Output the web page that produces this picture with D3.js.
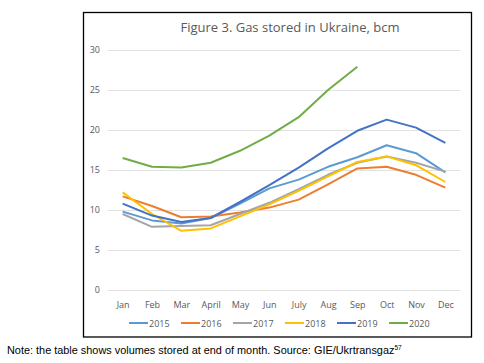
<!DOCTYPE html>
<html lang="en">
<head>
<meta charset="utf-8">
<title>Gas stored in Ukraine</title>
<script src="https://d3js.org/d3.v7.min.js"></script>
<style>
  body { margin: 0; background: #fff; }
  text { font-family: "Open Sans", "Liberation Sans", sans-serif; }
</style>
</head>
<body>
<svg id="chart" width="484" height="363"></svg>
<script>
// data (bcm at end of month)
var months = ["Jan", "Feb", "Mar", "April", "May", "Jun", "July", "Aug", "Sep", "Oct", "Nov", "Dec"];
var years = ["2015", "2016", "2017", "2018", "2019", "2020"];
var v2015 = [9.8, 8.7, 8.3, 9.0, 10.8, 12.7, 13.8, 15.4, 16.6, 18.1, 17.1, 14.7];
var v2016 = [11.7, 10.5, 9.1, 9.2, 9.7, 10.3, 11.3, 13.2, 15.2, 15.4, 14.4, 12.8];
var v2017 = [9.5, 7.9, 8.0, 8.1, 9.5, 10.9, 12.6, 14.4, 15.9, 16.7, 15.9, 14.8];
var v2018 = [12.2, 9.5, 7.4, 7.7, 9.2, 10.7, 12.4, 14.2, 16.0, 16.7, 15.6, 13.5];
var v2019 = [10.8, 9.3, 8.5, 9.0, 11.0, 13.1, 15.3, 17.7, 19.9, 21.3, 20.3, 18.4];
var v2020 = [16.5, 15.4, 15.3, 15.9, 17.4, 19.3, 21.6, 25.0, 27.9];
var yTicks = [0, 5, 10, 15, 20, 25, 30];

var series = [v2015, v2016, v2017, v2018, v2019, v2020];
var colors = ["#5B9BD5", "#ED7D31", "#A5A5A5", "#FFC000", "#4472C4", "#70AD47"];

var svg = d3.select("#chart");

// frame round the chart
svg.append("rect")
  .attr("x", 83.5).attr("y", 12.5)
  .attr("width", 388).attr("height", 324.5)
  .attr("fill", "#fff").attr("stroke", "#000").attr("stroke-width", 1.3);

var x = d3.scalePoint().domain(months).range([108, 460]).padding(0.5);
var y = d3.scaleLinear().domain([0, 30]).range([290, 50]);

// gridlines + y labels
var yAxis = svg.append("g")
  .attr("transform", "translate(108,0)")
  .call(d3.axisLeft(y).tickValues(yTicks).tickSize(-352).tickPadding(8));
yAxis.select(".domain").remove();
yAxis.selectAll("line").attr("stroke", "#D9D9D9").attr("stroke-width", 0.8);
yAxis.selectAll("text").attr("fill", "#595959").style("font-size", "9px");

// x labels
var xAxis = svg.append("g")
  .attr("transform", "translate(0,290)")
  .call(d3.axisBottom(x).tickSize(0).tickPadding(12));
xAxis.select(".domain").remove();
xAxis.selectAll("text").attr("fill", "#595959").style("font-size", "9px");

// lines
var line = d3.line()
  .x(function (d, i) { return x(months[i]); })
  .y(function (d) { return y(d); });

series.forEach(function (s, k) {
  svg.append("path")
    .datum(s)
    .attr("d", line)
    .attr("fill", "none")
    .attr("stroke", colors[k])
    .attr("stroke-width", 2)
    .attr("stroke-linejoin", "round");
});

// title
svg.append("text")
  .attr("x", 290).attr("y", 32)
  .attr("text-anchor", "middle")
  .attr("fill", "#595959")
  .style("font-size", "13px")
  .text("Figure 3. Gas stored in Ukraine, bcm");

// legend
var leg = svg.append("g").attr("transform", "translate(129,323)");
years.forEach(function (yr, k) {
  var g = leg.append("g").attr("transform", "translate(" + (k * 52) + ",0)");
  g.append("line").attr("x1", 0).attr("x2", 19).attr("y1", 0).attr("y2", 0)
    .attr("stroke", colors[k]).attr("stroke-width", 2);
  g.append("text").attr("x", 20).attr("y", 3.5)
    .attr("fill", "#595959").style("font-size", "9px").text(yr);
});

// note under the chart
var note = svg.append("text")
  .attr("x", 7).attr("y", 354)
  .attr("fill", "#000")
  .style("font-family", "'Liberation Sans', Arial, sans-serif")
  .style("font-size", "10.9px");
note.append("tspan").text("Note: the table shows volumes stored at end of month. Source: GIE/Ukrtransgaz");
note.append("tspan").attr("dy", -4).style("font-size", "6.5px").text("57");
</script>
</body>
</html>
